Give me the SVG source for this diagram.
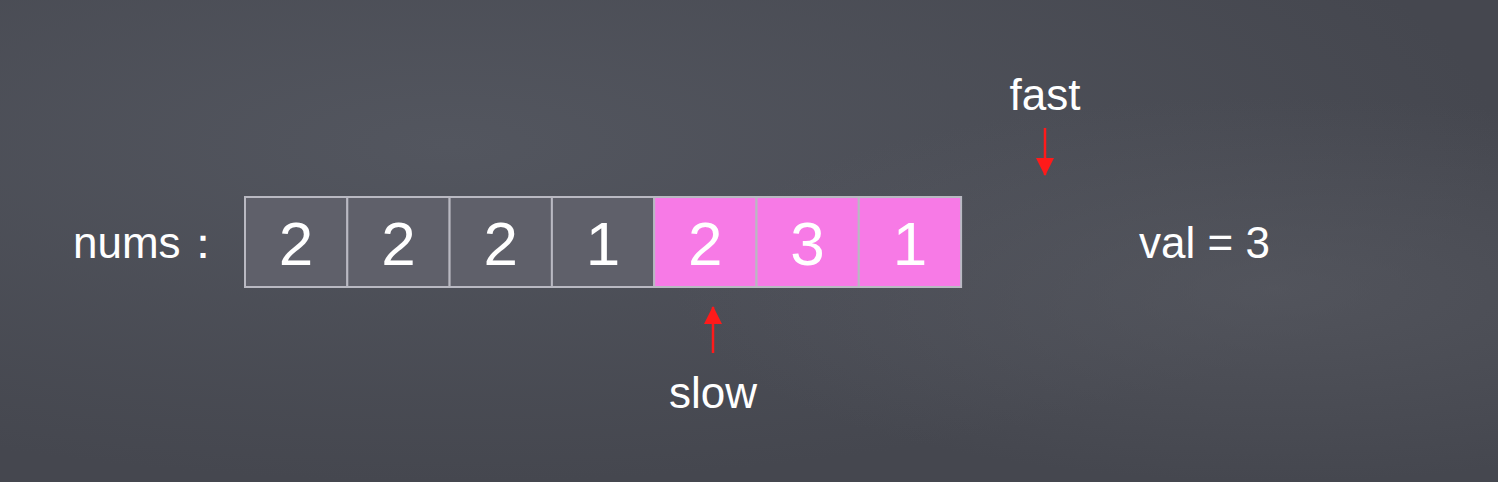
<svg xmlns="http://www.w3.org/2000/svg" width="1498" height="482" viewBox="0 0 1498 482">
  <defs>
    <radialGradient id="bg1" cx="0.3" cy="0.3" r="0.7">
      <stop offset="0" stop-color="#53565f"/>
      <stop offset="1" stop-color="#45474f"/>
    </radialGradient>
    <radialGradient id="bg2" cx="0.85" cy="0.6" r="0.4">
      <stop offset="0" stop-color="#5a5c64" stop-opacity="0.6"/>
      <stop offset="1" stop-color="#5a5c64" stop-opacity="0"/>
    </radialGradient>
    <marker id="ah" viewBox="0 0 18 18" refX="17" refY="9" markerWidth="18" markerHeight="18" markerUnits="userSpaceOnUse" orient="auto">
      <path d="M0,0 L18,9 L0,18 Z" fill="#ff1a1a"/>
    </marker>
    <style>
      .lbl { font-family: "Liberation Sans", Arial, sans-serif; fill: #ffffff; font-size: 44px; }
      .num { font-family: "Liberation Sans", Arial, sans-serif; fill: #ffffff; font-size: 62px; text-anchor: middle; }
      .cell { stroke: #b9b9c2; stroke-width: 2; }
      .g { fill: #5f606a; }
      .p { fill: #f77ae6; }
      .arrow { stroke: #ff1a1a; stroke-width: 2.5; fill: none; marker-end: url(#ah); }
    </style>
  </defs>
  <rect width="1498" height="482" fill="url(#bg1)"/>
  <rect width="1498" height="482" fill="url(#bg2)"/>

  <g id="label-nums"><text class="lbl" x="73" y="258" font-size="41">nums：</text></g>
  <g id="label-val"><text class="lbl" x="1139" y="258">val = 3</text></g>

  <g id="cell0"><rect class="cell g" x="245" y="197" width="102.3" height="90"/><text class="num" x="296.1" y="265">2</text></g>
  <g id="cell1"><rect class="cell g" x="347.3" y="197" width="102.3" height="90"/><text class="num" x="398.4" y="265">2</text></g>
  <g id="cell2"><rect class="cell g" x="449.6" y="197" width="102.3" height="90"/><text class="num" x="500.7" y="265">2</text></g>
  <g id="cell3"><rect class="cell g" x="551.9" y="197" width="102.3" height="90"/><text class="num" x="603" y="265">1</text></g>
  <g id="cell4"><rect class="cell p" x="654.2" y="197" width="102.3" height="90"/><text class="num" x="705.3" y="265">2</text></g>
  <g id="cell5"><rect class="cell p" x="756.5" y="197" width="102.3" height="90"/><text class="num" x="807.6" y="265">3</text></g>
  <g id="cell6"><rect class="cell p" x="858.8" y="197" width="102.3" height="90"/><text class="num" x="909.9" y="265">1</text></g>

  <g id="label-fast"><text class="lbl" x="1045" y="110" text-anchor="middle">fast</text></g>
  <g id="label-slow"><text class="lbl" x="713" y="408" text-anchor="middle">slow</text></g>

  <g id="connectors">
    <line class="arrow" x1="1045" y1="128" x2="1045" y2="175"/>
    <line class="arrow" x1="713" y1="353" x2="713" y2="307"/>
  </g>
</svg>
